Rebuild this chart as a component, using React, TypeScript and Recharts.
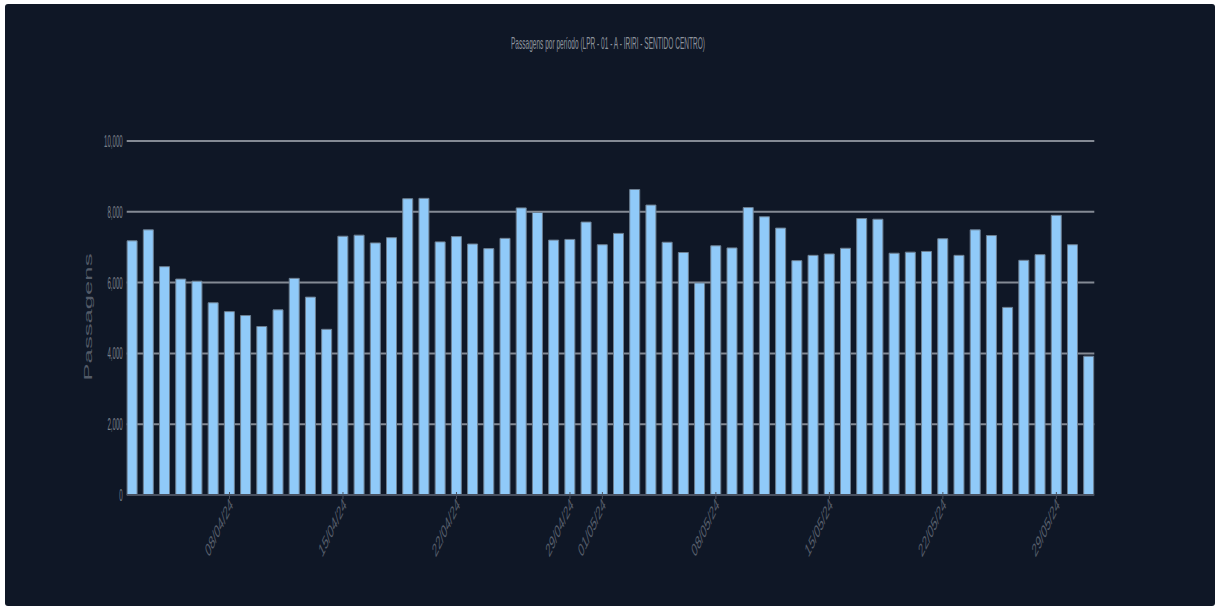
import React from 'react';
import { BarChart, Bar, XAxis, YAxis, CartesianGrid } from 'recharts';

const dates = [
  '02/04/24', '03/04/24', '04/04/24', '05/04/24', '06/04/24', '07/04/24', '08/04/24', '09/04/24',
  '10/04/24', '11/04/24', '12/04/24', '13/04/24', '14/04/24', '15/04/24', '16/04/24', '17/04/24',
  '18/04/24', '19/04/24', '20/04/24', '21/04/24', '22/04/24', '23/04/24', '24/04/24', '25/04/24',
  '26/04/24', '27/04/24', '28/04/24', '29/04/24', '30/04/24', '01/05/24', '02/05/24', '03/05/24',
  '04/05/24', '05/05/24', '06/05/24', '07/05/24', '08/05/24', '09/05/24', '10/05/24', '11/05/24',
  '12/05/24', '13/05/24', '14/05/24', '15/05/24', '16/05/24', '17/05/24', '18/05/24', '19/05/24',
  '20/05/24', '21/05/24', '22/05/24', '23/05/24', '24/05/24', '25/05/24', '26/05/24', '27/05/24',
  '28/05/24', '29/05/24', '30/05/24', '31/05/24',
];

const passagens = [
  7180, 7490, 6450, 6100, 6040, 5430, 5180, 5070, 4760, 5230, 6120, 5590, 4680, 7310, 7340, 7120,
  7270, 8370, 8380, 7150, 7300, 7090, 6960, 7250, 8110, 7980, 7200, 7220, 7710, 7070, 7390, 8630,
  8190, 7140, 6850, 5990, 7040, 6980, 8120, 7860, 7540, 6620, 6770, 6810, 6970, 7810, 7790, 6830,
  6860, 6880, 7240, 6770, 7490, 7330, 5300, 6630, 6790, 7900, 7070, 3920,
];

const tickLabels = [
  '08/04/24', '15/04/24', '22/04/24', '29/04/24', '01/05/24',
  '08/05/24', '15/05/24', '22/05/24', '29/05/24',
];

const yTicks = [0, 2000, 4000, 6000, 8000, 10000];

const chartData = dates.map((date, i) => ({ date, passagens: passagens[i] }));

const W = 1210;
const H = 602;
const PLOT_LEFT = 121.7;
const PLOT_BOTTOM = 491;

const YTick = (props: any) => {
  const { y, payload } = props;
  return (
    <text
      transform={`translate(${PLOT_LEFT - 4},${y}) scale(0.36,1)`}
      textAnchor="end"
      dy="0.35em"
      fontSize={17}
      fontFamily="Liberation Sans, Arial, sans-serif"
      fill="#7a808a"
    >
      {Number(payload.value).toLocaleString('en-US')}
    </text>
  );
};

const XTick = (props: any) => {
  const { x, payload } = props;
  if (!tickLabels.includes(payload.value)) return <g />;
  return (
    <g>
      <line x1={x} x2={x} y1={PLOT_BOTTOM - 3} y2={PLOT_BOTTOM + 4} stroke="#4a5160" strokeWidth={1} />
      <text
        transform={`translate(${x + 4},${PLOT_BOTTOM + 11}) scale(1,2.1) rotate(-45)`}
        textAnchor="end"
        fontSize={9}
        fontFamily="Liberation Sans, Arial, sans-serif"
        fill="#565e6b"
      >
        {payload.value}
      </text>
    </g>
  );
};

export default function App() {
  return (
    <div
      style={{
        position: 'absolute',
        left: 5,
        top: 4,
        width: W,
        height: H,
        background: '#0f1726',
        borderRadius: 3,
      }}
    >
      <BarChart
        width={W}
        height={H}
        data={chartData}
        margin={{ top: 137, right: W - 1089.3, bottom: 61, left: PLOT_LEFT - 60 }}
      >
        <CartesianGrid
          vertical={false}
          horizontalValues={[2000, 4000, 6000, 8000, 10000]}
          stroke="#848a94"
          strokeWidth={2}
        />
        <XAxis
          dataKey="date"
          interval={0}
          height={50}
          padding={{ left: -2.6, right: -2.6 }}
          axisLine={{ stroke: '#4a5160', strokeWidth: 2 }}
          tickLine={false}
          tick={<XTick />}
        />
        <YAxis
          width={60}
          domain={[0, 10000]}
          ticks={yTicks}
          axisLine={false}
          tickLine={false}
          tick={<YTick />}
        />
        <Bar
          dataKey="passagens"
          fill="#90caf9"
          stroke="#6d7f91"
          strokeWidth={1}
          barSize={10}
          isAnimationActive={false}
        />
      </BarChart>
      <svg
        width={W}
        height={H}
        style={{ position: 'absolute', left: 0, top: 0, pointerEvents: 'none' }}
      >
        <text
          x={603}
          y={45}
          textAnchor="middle"
          fontSize={17}
          textLength={194}
          lengthAdjust="spacingAndGlyphs"
          fontFamily="Liberation Sans, Arial, sans-serif"
          fill="#8d939c"
        >
          Passagens por período (LPR - 01 - A - IRIRI - SENTIDO CENTRO)
        </text>
        <text
          transform="translate(83,313) rotate(-90)"
          textAnchor="middle"
          dy="0.35em"
          fontSize={11}
          textLength={127}
          lengthAdjust="spacingAndGlyphs"
          fontFamily="Liberation Sans, Arial, sans-serif"
          fill="#535b68"
        >
          Passagens
        </text>
      </svg>
    </div>
  );
}
